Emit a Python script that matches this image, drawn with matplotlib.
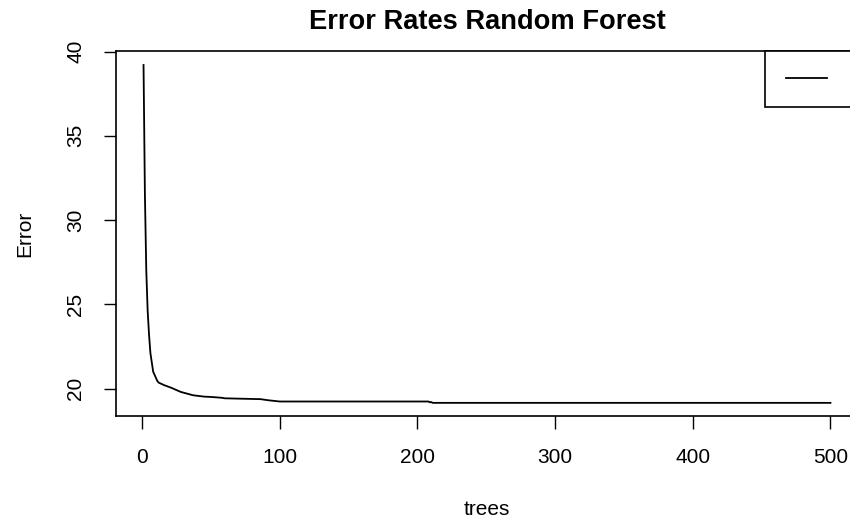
import numpy as np
import matplotlib
matplotlib.use("Agg")
import matplotlib.pyplot as plt

plt.rcParams['font.family'] = ['Liberation Sans', 'DejaVu Sans']

# error rate (tree number, error)
trees = [1, 2, 3, 4, 5, 6, 8, 11, 12, 16, 21, 28, 37, 45, 50, 55, 58, 60, 70,
         86, 92, 100, 150, 208, 209, 210, 211, 300, 400, 500]
error = [39.2, 31.5, 27.0, 24.6, 23.2, 22.1, 21.0, 20.45, 20.35, 20.2, 20.05,
         19.8, 19.6, 19.52, 19.5, 19.47, 19.45, 19.42, 19.4, 19.37, 19.3,
         19.23, 19.23, 19.23, 19.18, 19.2, 19.15, 19.15, 19.15, 19.15]

xticks = [0, 100, 200, 300, 400, 500]
yticks = [20, 25, 30, 35, 40]

fig = plt.figure(figsize=(8.5, 5.27), dpi=100)
ax = fig.add_axes([116/850, 1 - 416/527, 742/850, 365/527])

ax.plot(trees, error, color='black', lw=1.3)

ax.set_xlim(-19, 520)
ax.set_ylim(18.37, 40.03)
ax.set_xticks(xticks)
ax.set_yticks(yticks)
ax.tick_params(direction='out', length=9, width=1, labelsize=15)
ax.tick_params(axis='x', pad=14)
ax.tick_params(axis='y', pad=13)
for lab in ax.get_yticklabels():
    lab.set_rotation(90)
    lab.set_va('center')
for s in ax.spines.values():
    s.set_linewidth(1.2)

ax.set_xlabel('trees', fontsize=15, labelpad=24)
ax.set_ylabel('Error', fontsize=15, labelpad=23)
ax.set_title('Error Rates Random Forest', fontsize=19.6, fontweight='bold', pad=16)

# legend box with a single line and no label (as in the original)
leg = ax.legend([plt.Line2D([], [], color='black', lw=1.3)], [''],
                loc='upper right', bbox_to_anchor=(1.0, 1.0), borderaxespad=0,
                fancybox=False, edgecolor='black', framealpha=1,
                handlelength=3.0, borderpad=1.5, handletextpad=0.7)
leg.get_frame().set_linewidth(1.2)

fig.savefig('out.png', dpi=100)
